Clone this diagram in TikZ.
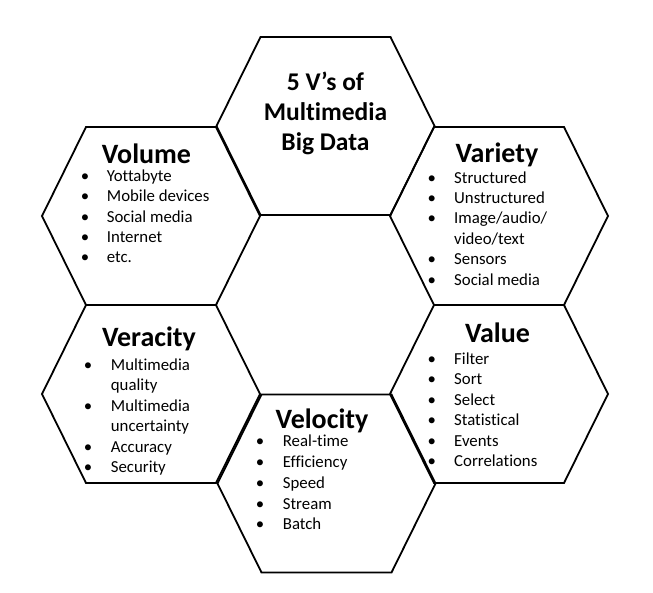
\documentclass[tikz,border=0pt]{standalone}
\usepackage{fontspec}
\setmainfont{Carlito}[Ligatures=NoCommon]
\usepackage{tikz}
\tikzset{hexline/.style = {draw, line width=1.8pt, line join=miter}}
\tikzset{vtitle/.style = {anchor=base, inner sep=0pt, font=\fontsize{28}{30}\selectfont\bfseries}}
\tikzset{item/.style = {anchor=base west, inner sep=0pt, font=\fontsize{16.8}{20}\selectfont}}
\tikzset{dot/.style = {anchor=base, inner sep=0pt, font=\fontsize{16.8}{20}\selectfont}}

\begin{document}
\begin{tikzpicture}[x=1pt, y=-1pt]
\useasboundingbox (0,0) rectangle (653,592);

% hexagon centres
\coordinate (c-top) at (325.5,126);
\coordinate (c-vol) at (151,216);
\coordinate (c-var) at (499,216);
\coordinate (c-ver) at (151,394);
\coordinate (c-val) at (499,394);
\coordinate (c-vel) at (326.5,483.5);

\foreach \h in {top, vol, var, ver, val, vel}
  \draw[hexline] ([xshift=-109pt]c-\h) -- ([xshift=-65pt, yshift=89pt]c-\h)
    -- ([xshift=65pt, yshift=89pt]c-\h) -- ([xshift=109pt]c-\h)
    -- ([xshift=65pt, yshift=-89pt]c-\h) -- ([xshift=-65pt, yshift=-89pt]c-\h) -- cycle;

% base anchor sits on the last line here
\node[vtitle, align=center, font=\fontsize{25.5}{30}\selectfont\bfseries] (t-top) at (325.5,150.7)
  {5 V’s of\\ Multimedia\\ Big Data};

\node[vtitle] (t-vol) at (146.5,163) {Volume};
\foreach \b/\t [count=\i] in {1/Yottabyte, 1/Mobile devices, 1/Social media, 1/Internet, 1/etc.} {
  \node[item] (vol-\i) at (106.7,{181.7+20.2*(\i-1)}) {\t};
  \ifnum\b=1 \node[dot] (vol-b\i) at (85,{181.7+20.2*(\i-1)}) {•}; \fi
}

\node[vtitle] (t-var) at (497,162.7) {Variety};
\foreach \b/\t [count=\i] in {1/Structured, 1/Unstructured, 1/{Image/audio/}, 0/{video/text}, 1/Sensors, 1/Social media} {
  \node[item] (var-\i) at (454,{183+20.4*(\i-1)}) {\t};
  \ifnum\b=1 \node[dot] (var-b\i) at (431.7,{183+20.4*(\i-1)}) {•}; \fi
}

\node[vtitle] (t-ver) at (149,346) {Veracity};
\foreach \b/\t [count=\i] in {1/Multimedia, 0/quality, 1/Multimedia, 0/uncertainty, 1/Accuracy, 1/Security} {
  \node[item] (ver-\i) at (110.7,{370+20.5*(\i-1)}) {\t};
  \ifnum\b=1 \node[dot] (ver-b\i) at (88,{370+20.5*(\i-1)}) {•}; \fi
}

\node[vtitle] (t-val) at (497.5,342.7) {Value};
\foreach \b/\t [count=\i] in {1/Filter, 1/Sort, 1/Select, 1/Statistical, 1/Events, 1/Correlations} {
  \node[item] (val-\i) at (454,{364+20.5*(\i-1)}) {\t};
  \ifnum\b=1 \node[dot] (val-b\i) at (431.7,{364+20.5*(\i-1)}) {•}; \fi
}

\node[vtitle] (t-vel) at (322,428) {Velocity};
\foreach \b/\t [count=\i] in {1/Real-time, 1/Efficiency, 1/Speed, 1/Stream, 1/Batch} {
  \node[item] (vel-\i) at (282.7,{446.7+20.8*(\i-1)}) {\t};
  \ifnum\b=1 \node[dot] (vel-b\i) at (260,{446.7+20.8*(\i-1)}) {•}; \fi
}

\end{tikzpicture}
\end{document}
